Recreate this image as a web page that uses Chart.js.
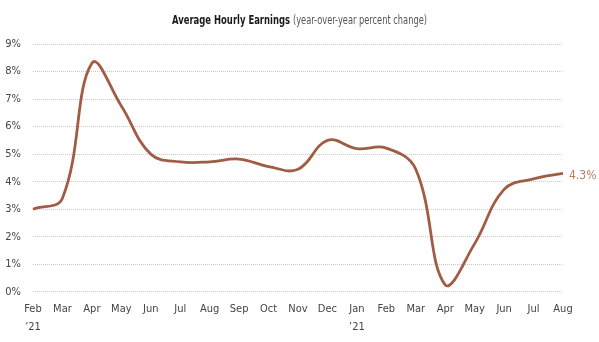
<!DOCTYPE html>
<html>
<head>
<meta charset="utf-8">
<script src="https://cdn.jsdelivr.net/npm/chart.js@4.4.0/dist/chart.umd.min.js"></script>
<style>
html,body{margin:0;padding:0;background:#fff;}
#wrap{width:599px;height:342px;position:relative;}
</style>
</head>
<body>
<div id="wrap"><canvas id="c" width="599" height="342"></canvas></div>
<script>
const titleBold = "Average Hourly Earnings";
const titleRegular = "(year-over-year percent change)";
const monthLabels = ["Feb","Mar","Apr","May","Jun","Jul","Aug","Sep","Oct","Nov","Dec","Jan","Feb","Mar","Apr","May","Jun","Jul","Aug"];
const yearLabels = ["\u201921","","","","","","","","","","","\u201921","","","","","","",""];
const earningsChange = [3.0,3.4,8.3,6.75,5.0,4.72,4.72,4.82,4.55,4.45,5.5,5.2,5.22,4.45,0.25,1.75,3.72,4.1,4.3];
const yTicks = [0,1,2,3,4,5,6,7,8,9];
const endLabel = "4.3%";

const FONT = "'DejaVu Sans Condensed', 'Liberation Sans Narrow', sans-serif";
const LINE = '#a05c44';

const labels = monthLabels.map((m,i)=> yearLabels[i] ? [m, yearLabels[i]] : m);

function drawFitted(ctx, text, x, y, targetW){
  const w = ctx.measureText(text).width;
  const sx = targetW / w;
  ctx.save();
  ctx.translate(x, y);
  ctx.scale(sx, 1);
  ctx.fillText(text, 0, 0);
  ctx.restore();
}

const overlay = {
  id:'overlay',
  afterDraw(chart){
    const ctx = chart.ctx;
    ctx.save();
    ctx.textBaseline = 'alphabetic';
    ctx.textAlign='left';
    ctx.font = "bold 12.5px " + FONT;
    ctx.fillStyle = '#1a1a1a';
    drawFitted(ctx, titleBold, 172, 24, 118);
    ctx.font = "12px " + FONT;
    ctx.fillStyle = '#555';
    drawFitted(ctx, titleRegular, 293, 24, 134);
    // end label
    const meta = chart.getDatasetMeta(0);
    const last = meta.data[meta.data.length-1];
    ctx.textBaseline = 'middle';
    ctx.font = "12px " + FONT;
    ctx.fillStyle = '#b87d65';
    ctx.fillText(endLabel, last.x + 6, last.y + 2);
    ctx.restore();
  }
};

new Chart(document.getElementById('c'), {
  type:'line',
  data:{
    labels: labels,
    datasets:[{
      data: earningsChange,
      borderColor: LINE,
      borderWidth: 2.8,
      pointRadius: 0,
      tension: 0.4,
      fill: false
    }]
  },
  options:{
    responsive:false,
    animation:false,
    devicePixelRatio:1,
    layout:{padding:{top:44,right:36,left:0,bottom:-3}},
    plugins:{legend:{display:false},tooltip:{enabled:false},title:{display:false}},
    scales:{
      x:{
        offset:false,
        grid:{display:false,drawTicks:false},
        border:{display:false},
        ticks:{color:'#444',font:{family:FONT,size:11,lineHeight:1.6},padding:9,maxRotation:0,autoSkip:false}
      },
      y:{
        min:0,max:9,
        afterFit(s){ s.width = 33; },
        afterBuildTicks(s){ s.ticks = yTicks.map(v=>({value:v})); },
        grid:{color:'#c8c8c8',lineWidth:1,drawTicks:false},
        border:{display:false,dash:[1,1]},
        ticks:{color:'#444',font:{family:FONT,size:11},padding:12,callback:v=>v+'%'}
      }
    }
  },
  plugins:[overlay]
});
</script>
</body>
</html>
